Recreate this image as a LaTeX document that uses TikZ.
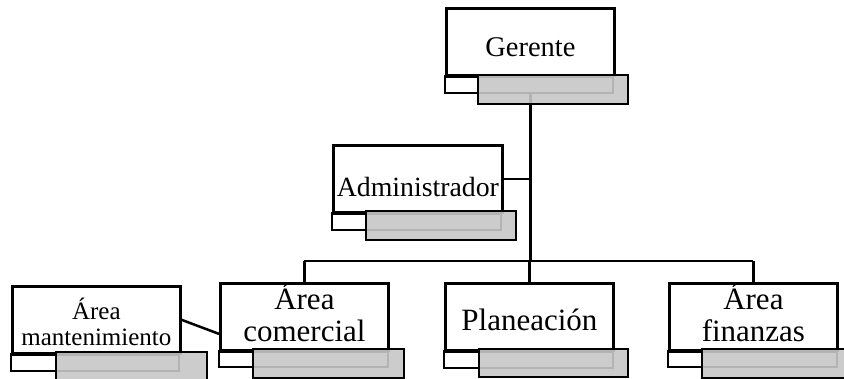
\documentclass[tikz,border=0pt]{standalone}
\usepackage{fontspec}
\setmainfont{Liberation Serif}
\pgfdeclarelayer{background}
\pgfsetlayers{background,main}
\definecolor{shade}{rgb}{0.78,0.78,0.78}
\tikzset{
  tbox/.style={draw=black, fill=white, line width=2.8pt, inner sep=0pt,
    minimum width=168pt, minimum height=67pt, anchor=north west, align=center},
  strip/.style={draw=black, fill=white, line width=2.8pt},
  shadebox/.style={draw=black, line width=2.8pt, fill=shade, fill opacity=0.9},
  conn/.style={draw=black, line width=2.5pt},
  big/.style={font=\fontsize{31}{32}\selectfont},
}
\begin{document}
\begin{tikzpicture}[x=1pt,y=-1pt]
\useasboundingbox (0,0) rectangle (844,379);
% nodes
\node[tbox, font=\fontsize{28.5}{30}\selectfont, text height=28.5pt, text depth=0pt] (ger) at (445,7) {Gerente};
\node[tbox, minimum width=169pt, font=\fontsize{27.8}{30}\selectfont, text height=34.5pt, text depth=0pt] (adm) at (332,144) {Administrador};
\node[tbox, big, text height=49pt, text depth=0pt] (com) at (219,282) {Área\\comercial};
\node[tbox, big, text height=26.5pt, text depth=0pt] (pla) at (444,282) {Planeación};
\node[tbox, big, text height=49pt, text depth=0pt] (fin) at (668,282) {Área\\finanzas};
\node[tbox, font=\fontsize{25}{26}\selectfont, text height=51pt, text depth=0pt] (man) at (11,285) {Área\\mantenimiento};
% connectors
\begin{pgfonlayer}{background}
\coordinate (hub) at (ger.south |- 0,261);
\coordinate (hubadm) at (ger.south |- adm.east);
\draw[conn] (ger.south) -- (hub);
\draw[conn] (hubadm) -- (adm.east);
\draw[conn] (com.north |- hub) -- (fin.north |- hub);
\draw[conn] (com.north |- hub) -- (com.north);
\draw[conn] (pla.north |- hub) -- (pla.north);
\draw[conn] (fin.north |- hub) -- (fin.north);
\draw[conn] (man.east) -- ([yshift=-17pt]com.west);
\end{pgfonlayer}
% strips and shaded bars
\draw[strip] (ger.south west) rectangle (613,93);
\draw[shadebox] (478,75) rectangle (628,104);
\draw[strip] (adm.south west) rectangle (501,230);
\draw[shadebox] (366,211) rectangle (516,240);
\draw[strip] (com.south west) rectangle (388,367);
\draw[shadebox] (253,349) rectangle (404,378);
\draw[strip] (pla.south west) rectangle (613,368);
\draw[shadebox] (479,349) rectangle (628,377);
\draw[strip] (fin.south west) rectangle (837,367);
\draw[shadebox] (702,349) rectangle (852,378);
\draw[strip] (man.south west) rectangle (179,371);
\draw[shadebox] (56,352) rectangle (207,385);
\end{tikzpicture}
\end{document}
